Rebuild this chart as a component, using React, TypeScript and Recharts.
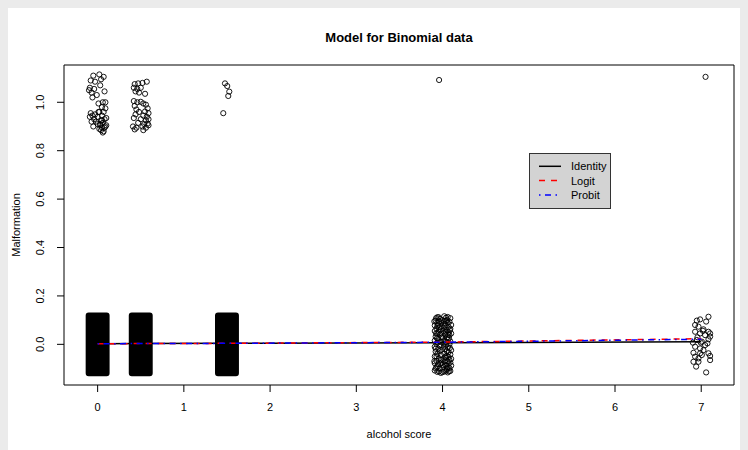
import React from "react";
import {
  Label,
  Legend,
  ReferenceArea,
  Scatter,
  ScatterChart,
  XAxis,
  YAxis,
} from "recharts";

const FONT = "'Liberation Sans', Arial, Helvetica, sans-serif";

// axes
const xTicks = [0, 1, 2, 3, 4, 5, 6, 7];
const yTicks = [0, 0.2, 0.4, 0.6, 0.8, 1.0];
const xDomain: [number, number] = [-0.39, 7.38];
const yDomain: [number, number] = [-0.168, 1.154];

// scores with thousands of jittered zeros (drawn as solid blocks)
const denseScores = [0, 0.5, 1.5];
const denseHalfWidth = 0.104;
const denseHalfHeight = 0.119;

// jittered points: [offset from score, jittered malformation]
const ones0 = [
  [-0.05, 1.11], [0.02, 1.115], [0.07, 1.105], [-0.08, 1.09], [-0.03, 1.085], [0.04, 1.095],
  [-0.09, 1.06], [-0.04, 1.055], [0.03, 1.07], [0.08, 1.045], [-0.07, 1.04], [-0.01, 1.03],
  [0.09, 1.0], [-0.06, 1.02], [0.01, 0.995], [0.06, 1.0], [0.05, 0.98], [0.09, 0.975],
  [-0.08, 0.955], [-0.03, 0.95], [0.02, 0.96], [0.07, 0.96], [-0.06, 0.945], [0.0, 0.94],
  [0.05, 0.945], [0.1, 0.935], [-0.09, 0.94], [-0.04, 0.93], [0.04, 0.925], [0.08, 0.93],
  [-0.02, 0.92], [0.06, 0.915], [0.03, 0.905], [-0.07, 0.92], [0.0, 0.91], [0.09, 0.9],
  [0.05, 0.895], [-0.05, 0.9], [0.02, 0.89], [0.07, 0.88], [0.04, 0.885], [0.1, 0.905],
  [0.06, 0.875], [0.03, 0.91], [0.08, 0.895], [0.05, 0.925], [0.01, 0.96], [-0.1, 1.05],
];
const ones05 = [
  [-0.07, 1.075], [-0.03, 1.078], [0.02, 1.08], [0.07, 1.085], [-0.08, 1.06], [-0.04, 1.055],
  [0.0, 1.06], [-0.06, 1.045], [-0.02, 1.04], [0.05, 1.035], [-0.08, 1.005], [-0.04, 1.0],
  [0.0, 1.002], [0.03, 0.995], [-0.07, 0.985], [0.06, 0.99], [-0.05, 0.97], [0.08, 0.975],
  [-0.02, 0.96], [0.05, 0.962], [0.09, 0.955], [-0.06, 0.95], [0.03, 0.945], [0.07, 0.94],
  [-0.08, 0.935], [0.0, 0.93], [0.06, 0.925], [0.09, 0.93], [-0.03, 0.915], [0.04, 0.91],
  [0.08, 0.912], [-0.09, 0.9], [-0.05, 0.895], [0.02, 0.9], [0.06, 0.895], [-0.07, 0.888],
  [0.03, 0.885], [0.09, 0.905],
];
const ones15 = [[-0.023, 1.078], [0.003, 1.067], [0.027, 1.044], [0.015, 1.026], [-0.043, 0.955]];
const ones4 = [[-0.04, 1.092]];
const ones7 = [[0.05, 1.105]];
const zeros4 = [
  [-0.06, 0.112], [0.02, 0.116], [0.06, 0.113], [0.09, 0.108], [-0.03, 0.105],
  [-0.08, 0.098], [-0.04, 0.095], [0.0, 0.1], [0.04, 0.097], [0.08, 0.093], [-0.06, 0.088], [0.02, 0.085],
  [-0.09, 0.078], [-0.05, 0.08], [-0.01, 0.075], [0.03, 0.078], [0.07, 0.072], [0.1, 0.08],
  [-0.07, 0.065], [-0.02, 0.062], [0.05, 0.06], [0.09, 0.064], [-0.09, 0.055], [0.01, 0.055], [0.07, 0.05],
  [-0.06, 0.045], [-0.03, 0.04], [0.03, 0.042], [0.08, 0.038], [-0.08, 0.032], [0.0, 0.03], [0.05, 0.028],
  [-0.05, 0.022], [-0.09, 0.015], [0.02, 0.018], [0.06, 0.02], [0.09, 0.012], [-0.02, 0.01],
  [-0.07, 0.002], [-0.03, -0.004], [0.01, 0.003], [0.04, -0.002], [0.08, 0.0], [-0.09, -0.01], [0.06, -0.012],
  [-0.05, -0.018], [-0.01, -0.022], [0.03, -0.02], [0.1, -0.024], [-0.08, -0.03], [0.07, -0.032],
  [-0.06, -0.04], [-0.02, -0.044], [0.02, -0.038], [0.05, -0.046], [0.09, -0.042], [-0.09, -0.05],
  [-0.04, -0.058], [0.0, -0.062], [0.04, -0.056], [0.08, -0.064], [-0.07, -0.068], [0.06, -0.07],
  [-0.09, -0.078], [-0.05, -0.082], [-0.01, -0.076], [0.03, -0.084], [0.07, -0.08], [0.1, -0.088],
  [-0.07, -0.095], [-0.03, -0.1], [0.01, -0.094], [0.05, -0.102], [0.08, -0.098], [-0.09, -0.108],
  [-0.06, -0.114], [-0.02, -0.118], [0.02, -0.112], [0.06, -0.116], [0.09, -0.11],
  [-0.075, 0.108], [0.04, 0.11], [-0.015, 0.09], [0.06, 0.088], [-0.035, 0.07], [0.015, 0.068],
  [0.085, 0.058], [-0.045, 0.052], [0.035, 0.052], [-0.075, 0.045], [0.065, 0.04], [-0.015, 0.028],
  [0.04, 0.01], [-0.055, 0.008], [0.075, 0.025], [-0.08, -0.018], [0.015, -0.01], [-0.035, -0.028],
  [0.05, -0.028], [0.085, -0.015], [-0.07, -0.05], [0.07, -0.052], [-0.02, -0.065], [0.025, -0.07],
  [-0.055, -0.09], [0.045, -0.088], [0.09, -0.075], [-0.04, -0.112], [0.04, -0.108], [0.075, -0.112],
  [-0.08, -0.1], [0.0, -0.086], [-0.01, 0.045], [0.02, 0.095], [-0.065, 0.025], [0.1, 0.045],
  [0.1, -0.06], [-0.095, 0.095], [-0.095, -0.07], [0.0, -0.115], [0.055, 0.1], [-0.045, 0.112],
  [-0.025, -0.08], [0.03, -0.052], [0.06, -0.095], [-0.06, 0.075],
];
const zeros7 = [
  [0.084, 0.114], [-0.013, 0.103], [-0.051, 0.098], [0.057, 0.094], [-0.071, 0.08], [-0.032, 0.073],
  [0.026, 0.062], [0.084, 0.052], [0.103, 0.045], [-0.071, 0.052], [-0.013, 0.045], [0.045, 0.038],
  [0.103, 0.032], [-0.051, 0.018], [0.007, 0.011], [0.084, 0.021], [-0.071, -0.01], [-0.013, -0.017],
  [0.026, -0.024], [-0.09, -0.035], [-0.013, -0.037], [0.084, -0.037], [0.103, -0.048], [-0.071, -0.051],
  [-0.032, -0.058], [0.007, -0.044], [0.103, -0.065], [-0.09, -0.072], [-0.032, -0.072], [-0.059, -0.092],
  [0.057, -0.116], [-0.044, 0.029], [0.019, 0.056], [-0.097, 0.007], [0.045, -0.003], [0.072, 0.004],
  [-0.005, 0.007],
];

// fitted probabilities at the observed scores
const fitX = [0, 0.5, 1.5, 4, 7];
const identityFit = [0.0026, 0.0032, 0.0043, 0.007, 0.0104];
const logitFit = [0.0026, 0.003, 0.0041, 0.0091, 0.0232];
const probitFit = [0.0027, 0.0031, 0.0041, 0.0086, 0.021];

const clusters: Array<[number, number[][]]> = [
  [0, ones0],
  [0.5, ones05],
  [1.5, ones15],
  [4, ones4],
  [7, ones7],
  [4, zeros4],
  [7, zeros7],
];
const points = clusters.flatMap(([score, pts]) =>
  pts.map(([dx, y]) => ({ x: score + dx, y }))
);
const fitData = (vals: number[]) => fitX.map((x, i) => ({ x, y: vals[i] }));

const Ring = (p: any) => (
  <circle cx={p.cx} cy={p.cy} r={2.6} fill="none" stroke="#000" strokeWidth={0.9} />
);
const NoDot = () => <g />;

const YTick = (p: any) => (
  <text
    x={p.x}
    y={p.y}
    transform={`rotate(-90, ${p.x}, ${p.y})`}
    textAnchor="middle"
    fontSize={11}
    fontFamily={FONT}
    fill="#000"
  >
    {Number(p.payload.value).toFixed(1)}
  </text>
);

const legendRows = [
  { name: "Identity", color: "#000", dash: undefined },
  { name: "Logit", color: "#ff0000", dash: "6 6" },
  { name: "Probit", color: "#0000ff", dash: "1.5 4.5 6 4.5" },
];

const LegendBox = () => (
  <svg width={82} height={57} style={{ display: "block" }}>
    <rect x={0.5} y={0.5} width={81} height={55} fill="#d3d3d3" stroke="#333" />
    {legendRows.map((r, i) => {
      const y = 13.3 + i * 14.3;
      return (
        <g key={r.name}>
          <line x1={10} x2={32} y1={y} y2={y} stroke={r.color} strokeWidth={1.5} strokeDasharray={r.dash} />
          <text x={42} y={y} dy="0.36em" fontSize={11} fontFamily={FONT} fill="#000">
            {r.name}
          </text>
        </g>
      );
    })}
  </svg>
);

export default function App() {
  return (
    <>
      <div style={{ position: "fixed", inset: 0, background: "#ebebeb", zIndex: -1 }} />
      <div style={{ position: "relative", width: 740, height: 442, background: "#fff" }}>
        <svg
          width={740}
          height={50}
          style={{ position: "absolute", left: 0, top: 0, pointerEvents: "none" }}
        >
          <text x={391} y={33.5} textAnchor="middle" fontSize={13} fontWeight="bold" fontFamily={FONT} fill="#000">
            Model for Binomial data
          </text>
        </svg>
        <ScatterChart width={740} height={442} margin={{ top: 57, right: 14, bottom: 0, left: 0 }}>
          <XAxis
            type="number"
            dataKey="x"
            domain={xDomain}
            ticks={xTicks}
            allowDataOverflow
            height={65}
            axisLine={false}
            tickSize={7}
            tickMargin={11}
            tickLine={{ stroke: "#000" }}
            tick={{ fill: "#000", fontSize: 11, fontFamily: FONT }}
          >
            <Label
              value="alcohol score"
              position="insideBottom"
              offset={12}
              fill="#000"
              fontSize={11}
              fontFamily={FONT}
            />
          </XAxis>
          <YAxis
            type="number"
            dataKey="y"
            domain={yDomain}
            ticks={yTicks}
            allowDataOverflow
            width={56}
            axisLine={false}
            tickSize={7}
            tickMargin={12.5}
            tickLine={{ stroke: "#000" }}
            tick={<YTick />}
          >
            <Label
              content={(p: any) => {
                const vb = p.viewBox || {};
                const cy = (vb.y ?? 0) + (vb.height ?? 0) / 2;
                return (
                  <text
                    x={12}
                    y={cy}
                    transform={`rotate(-90, 12, ${cy})`}
                    textAnchor="middle"
                    fontSize={11}
                    fontFamily={FONT}
                    fill="#000"
                  >
                    Malformation
                  </text>
                );
              }}
            />
          </YAxis>
          <ReferenceArea
            x1={xDomain[0]}
            x2={xDomain[1]}
            y1={yDomain[0]}
            y2={yDomain[1]}
            fill="none"
            stroke="#000"
            strokeWidth={1}
          />
          {denseScores.map((s) => (
            <ReferenceArea
              key={s}
              x1={s - denseHalfWidth}
              x2={s + denseHalfWidth}
              y1={-denseHalfHeight}
              y2={denseHalfHeight}
              fill="#000"
              fillOpacity={1}
              stroke="#000"
              strokeWidth={6}
              strokeLinejoin="round"
            />
          ))}
          <Scatter data={points} shape={<Ring />} isAnimationActive={false} legendType="none" />
          <Scatter
            data={fitData(identityFit)}
            shape={<NoDot />}
            line={{ stroke: "#000", strokeWidth: 1.5 }}
            isAnimationActive={false}
          />
          <Scatter
            data={fitData(logitFit)}
            shape={<NoDot />}
            line={{ stroke: "#ff0000", strokeWidth: 1.5, strokeDasharray: "6 6" }}
            isAnimationActive={false}
          />
          <Scatter
            data={fitData(probitFit)}
            shape={<NoDot />}
            line={{ stroke: "#0000ff", strokeWidth: 1.5, strokeDasharray: "1.5 4.5 6 4.5" }}
            isAnimationActive={false}
          />
          <Legend
            layout="vertical"
            align="center"
            verticalAlign="middle"
            wrapperStyle={{ left: 521, top: 145, width: 82, height: 57 }}
            content={() => <LegendBox />}
          />
        </ScatterChart>
      </div>
    </>
  );
}
